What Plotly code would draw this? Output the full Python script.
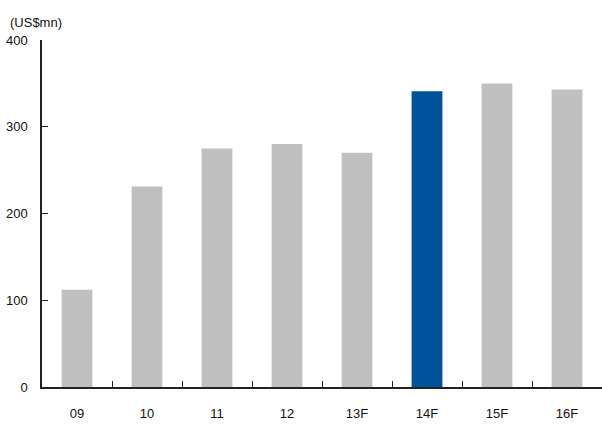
import plotly.graph_objects as go

# Annual figures, US$ millions (F = forecast)
years = ["09", "10", "11", "12", "13F", "14F", "15F", "16F"]
values = [112, 231, 275, 280, 270, 341, 350, 343]
highlight_year = "14F"

GRAY = "#C0C0C0"
BLUE = "#00529B"
colors = [BLUE if y == highlight_year else GRAY for y in years]

fig = go.Figure(
    go.Bar(
        x=years,
        y=values,
        marker=dict(color=colors, line=dict(width=0)),
        width=0.44,
    )
)

font = dict(family="Liberation Sans, Arial, sans-serif", size=13, color="#111111")

fig.update_layout(
    width=602,
    height=425,
    margin=dict(l=42, r=0, t=40, b=38),
    paper_bgcolor="white",
    plot_bgcolor="white",
    font=font,
    showlegend=False,
    bargap=0.56,
)

fig.update_xaxes(
    type="category",
    showline=True,
    linecolor="#222222",
    linewidth=1.5,
    ticks="inside",
    tickson="boundaries",
    ticklen=6,
    tickcolor="#222222",
    tickwidth=1,
    ticklabelstandoff=14,
    showgrid=False,
    zeroline=False,
)

fig.update_yaxes(
    range=[0, 400],
    tickvals=[0, 100, 200, 300, 400],
    showline=True,
    linecolor="#222222",
    linewidth=1.5,
    ticks="inside",
    ticklen=6,
    tickcolor="#222222",
    tickwidth=1,
    ticklabelstandoff=10,
    showgrid=False,
    zeroline=False,
)

fig.add_annotation(
    text="(US$mn)",
    xref="paper",
    yref="paper",
    x=-34 / 560,
    y=1,
    xanchor="left",
    yanchor="bottom",
    yshift=8,
    showarrow=False,
    font=font,
)

fig.write_html("out.html")
